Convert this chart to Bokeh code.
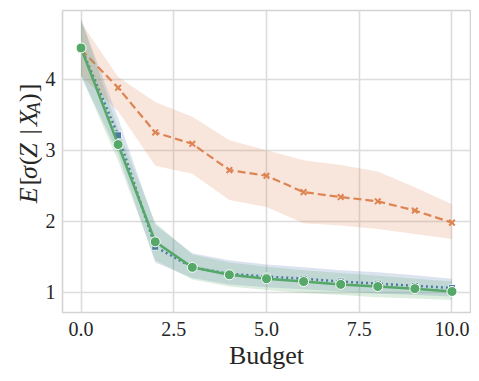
import math
from bokeh.plotting import figure
from bokeh.layouts import row
from bokeh.models import ColumnDataSource, FixedTicker, Range1d
from bokeh.core.properties import value
from bokeh.embed import file_html
from bokeh.resources import INLINE

budget = [0, 1, 2, 3, 4, 5, 6, 7, 8, 9, 10]

blue_mean = [4.45, 3.21, 1.64, 1.35, 1.26, 1.22, 1.19, 1.15, 1.12, 1.09, 1.06]
blue_lower = [4.05, 2.95, 1.42, 1.20, 1.11, 1.07, 1.04, 1.01, 0.98, 0.96, 0.94]
blue_upper = [4.85, 3.45, 1.95, 1.55, 1.45, 1.39, 1.35, 1.31, 1.28, 1.24, 1.19]

orange_mean = [4.42, 3.88, 3.25, 3.09, 2.72, 2.64, 2.41, 2.34, 2.28, 2.15, 1.98]
orange_lower = [4.05, 3.55, 2.78, 2.67, 2.30, 2.20, 1.97, 1.94, 1.89, 1.82, 1.75]
orange_upper = [4.80, 4.03, 3.68, 3.47, 3.14, 3.00, 2.86, 2.79, 2.70, 2.48, 2.24]

green_mean = [4.44, 3.08, 1.71, 1.35, 1.245, 1.19, 1.15, 1.11, 1.08, 1.05, 1.01]
green_lower = [4.05, 2.85, 1.45, 1.18, 1.08, 1.03, 0.99, 0.96, 0.93, 0.91, 0.89]
green_upper = [4.85, 3.30, 1.98, 1.53, 1.42, 1.36, 1.31, 1.27, 1.23, 1.19, 1.15]

x_ticks = [0, 2.5, 5, 7.5, 10]
y_ticks = [1, 2, 3, 4]

# y-axis title E[σ(Z|X_A)], written piecewise
ylabel_text = ["E", "[", "σ", "(", "Z", "|", "X", "A", ")", "]"]
ylabel_italic = [True, False, True, False, True, False, True, True, False, False]
ylabel_sub = [False, False, False, False, False, False, False, True, False, False]

BLUE = "#4c72b0"
ORANGE = "#dd8452"
GREEN = "#55a868"
TXT = "#262626"
GRID = "#dcdcdc"
FONT = "Liberation Serif"
H = 373
LAB_W = 42

# ---------- main plot ----------
p = figure(
    width=471 - LAB_W, height=H,
    frame_width=408, frame_height=302,
    min_border_left=62 - LAB_W, min_border_right=1, min_border_top=10, min_border_bottom=61,
    x_range=Range1d(-0.5, 10.5), y_range=Range1d(0.714, 4.968),
    output_backend="svg", toolbar_location=None,
)
p.background_fill_color = "white"
p.border_fill_color = "white"
p.outline_line_color = "#d4d4d4"
p.outline_line_width = 1.6

for ax in (p.xaxis, p.yaxis):
    ax.axis_line_color = None
    ax.major_tick_line_color = None
    ax.minor_tick_line_color = None
    ax.major_tick_out = 0
    ax.major_tick_in = 0
    ax.major_label_text_font = FONT
    ax.major_label_text_font_size = "20px"
    ax.major_label_text_color = TXT
    ax.major_label_standoff = 9
p.yaxis.major_label_standoff = 7

p.xaxis.ticker = FixedTicker(ticks=x_ticks)
p.yaxis.ticker = FixedTicker(ticks=y_ticks)
p.xaxis.major_label_overrides = {t: f"{t:.1f}" for t in x_ticks}
p.yaxis.major_label_overrides = {t: str(t) for t in y_ticks}

p.xaxis.axis_label = "Budget"
p.xaxis.axis_label_text_font = FONT
p.xaxis.axis_label_text_font_style = "normal"
p.xaxis.axis_label_text_font_size = "26px"
p.xaxis.axis_label_text_color = TXT
p.xaxis.axis_label_standoff = 2

p.xgrid.grid_line_color = GRID
p.ygrid.grid_line_color = GRID
p.xgrid.grid_line_width = 1.6
p.ygrid.grid_line_width = 1.6
p.xgrid.ticker = FixedTicker(ticks=x_ticks)
p.ygrid.ticker = FixedTicker(ticks=y_ticks)

series = [
    (blue_mean, blue_lower, blue_upper, BLUE, "dotted"),
    (orange_mean, orange_lower, orange_upper, ORANGE, "dashed"),
    (green_mean, green_lower, green_upper, GREEN, "solid"),
]

for mean, lo, hi, col, style in series:
    src = ColumnDataSource(dict(x=budget, y=mean, lo=lo, hi=hi))
    p.varea(x="x", y1="lo", y2="hi", source=src, fill_color=col, fill_alpha=0.2)
    if style == "dotted":
        p.line("x", "y", source=src, line_color=col, line_width=2.5, line_dash="2 3")
        p.scatter("x", "y", source=src, marker="square", size=7, fill_color=col,
                  line_color="white", line_width=1)
    elif style == "dashed":
        p.line("x", "y", source=src, line_color=col, line_width=2.2, line_dash="8 4")
        p.scatter("x", "y", source=src, marker="x", size=8, line_color=col, line_width=2)
    else:
        p.line("x", "y", source=src, line_color=col, line_width=2.5)
        p.scatter("x", "y", source=src, marker="circle", size=10, fill_color=col,
                  line_color="white", line_width=1)

# ---------- y-axis title panel ----------
lab = figure(
    width=LAB_W, height=H,
    x_range=Range1d(0, LAB_W), y_range=Range1d(0, H),
    min_border=0, x_axis_location=None, y_axis_location=None,
    output_backend="svg", toolbar_location=None,
)
lab.outline_line_color = None
lab.grid.visible = False
lab.background_fill_color = "white"
lab.border_fill_color = "white"

# glyph start positions (pixels from top) along the rotated title
piece_top = [238, 216, 208, 191, 182, 153, 143, 127, 113, 101]
piece_base = [28, 28, 28, 28, 28, 28, 28, 33, 28, 28]

for italic in (True, False):
    for sub in (False, True):
        idx = [i for i in range(len(ylabel_text))
               if ylabel_italic[i] == italic and ylabel_sub[i] == sub]
        if not idx:
            continue
        src = ColumnDataSource(dict(
            x=[piece_base[i] for i in idx],
            y=[H - piece_top[i] for i in idx],
            t=[ylabel_text[i] for i in idx],
        ))
        lab.text(x="x", y="y", text="t", source=src, angle=math.pi / 2,
                 text_align="left", text_baseline="alphabetic",
                 text_font=value(FONT),
                 text_font_style="italic" if italic else "normal",
                 text_font_size=value("18px" if sub else "26px"),
                 text_color=TXT)

layout = row(lab, p, spacing=0)
open("out.html", "w").write(file_html(layout, INLINE))
